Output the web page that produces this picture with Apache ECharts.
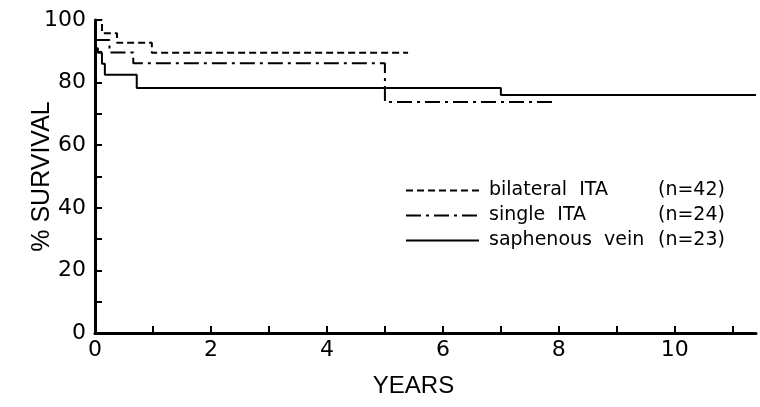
<!DOCTYPE html>
<html>
<head>
<meta charset="utf-8">
<script src="https://cdn.jsdelivr.net/npm/echarts@6/dist/echarts.min.js"></script>
<style>
  html, body { margin: 0; padding: 0; background: #fff; }
  #chart { width: 760px; height: 407px; }
</style>
</head>
<body>
<div id="chart"></div>
<script>
// Kaplan-Meier style survival steps (years, % survival)
const bilateralYears = [0, 0.12, 0.38, 0.98, 5.4];
const bilateralSurv = [100, 95.8, 92.7, 89.5, 89.5];
const singleYears = [0, 0.25, 0.66, 5.0, 7.9];
const singleSurv = [93.6, 89.6, 86.2, 73.8, 73.8];
const veinYears = [0, 0.05, 0.12, 0.17, 0.72, 7.0, 11.4];
const veinSurv = [91, 89.5, 86, 82.5, 78.3, 76.0, 76.0];

const seriesNames = ["bilateral  ITA", "single  ITA", "saphenous  vein"];
const seriesCounts = ["(n=42)", "(n=24)", "(n=23)"];

const pairs = (xs, ys) => xs.map((x, i) => [x, ys[i]]);
const font = "Liberation Sans, Arial, sans-serif";
const tickFont = "DejaVu Sans, sans-serif";

const chart = echarts.init(document.getElementById("chart"));

const lineSeries = (name, data, type) => ({
  name: name,
  type: "line",
  step: "end",
  symbol: "none",
  data: data,
  lineStyle: { color: "#000", width: 2, type: type },
  itemStyle: { color: "#000" },
});

chart.setOption({
  animation: false,
  backgroundColor: "#fff",
  grid: { left: 95, right: 4, top: 20, bottom: 74, outerBoundsMode: "none" },
  xAxis: {
    type: "value",
    min: 0,
    max: 11.4,
    interval: 1,
    name: "YEARS",
    nameLocation: "middle",
    nameGap: 41,
    nameMoveOverlap: false,
    nameTextStyle: { fontFamily: font, fontSize: 24, color: "#000", padding: [0, 24, 0, 0] },
    axisLine: { lineStyle: { color: "#000", width: 3 } },
    axisTick: { inside: true, length: 7, lineStyle: { color: "#000", width: 2 } },
    axisLabel: {
      fontFamily: tickFont, fontSize: 22, color: "#000", margin: 6,
      showMaxLabel: false,
      formatter: v => (v % 2 === 0 ? String(v) : ""),
    },
    splitLine: { show: false },
  },
  yAxis: {
    type: "value",
    min: 0,
    max: 100,
    interval: 10,
    name: "% SURVIVAL",
    nameLocation: "middle",
    nameGap: 40,
    nameRotate: 90,
    nameMoveOverlap: false,
    nameTextStyle: { fontFamily: font, fontSize: 25, color: "#000" },
    axisLine: { lineStyle: { color: "#000", width: 3 } },
    axisTick: { inside: true, length: 7, lineStyle: { color: "#000", width: 2 } },
    axisLabel: {
      fontFamily: tickFont, fontSize: 22, color: "#000", margin: 9,
      formatter: v => (v % 20 === 0 ? String(v) : ""),
    },
    splitLine: { show: false },
  },
  legend: {
    orient: "vertical",
    left: 400,
    top: 176,
    itemWidth: 73,
    itemHeight: 14,
    itemGap: 6,
    data: seriesNames,
    itemStyle: { opacity: 0 },
    formatter: name => {
      const i = seriesNames.indexOf(name);
      return "{a|" + name + "}{b|" + seriesCounts[i] + "}";
    },
    textStyle: {
      color: "#000",
      rich: {
        a: { fontFamily: tickFont, fontSize: 19, lineHeight: 20, color: "#000", width: 169, padding: [0, 0, 0, 5] },
        b: { fontFamily: tickFont, fontSize: 19, lineHeight: 20, color: "#000" },
      },
    },
  },
  series: [
    lineSeries(seriesNames[0], pairs(bilateralYears, bilateralSurv), [7, 4]),
    lineSeries(seriesNames[1], pairs(singleYears, singleSurv), [15, 5, 3, 5]),
    lineSeries(seriesNames[2], pairs(veinYears, veinSurv), "solid"),
  ],
});
</script>
</body>
</html>
